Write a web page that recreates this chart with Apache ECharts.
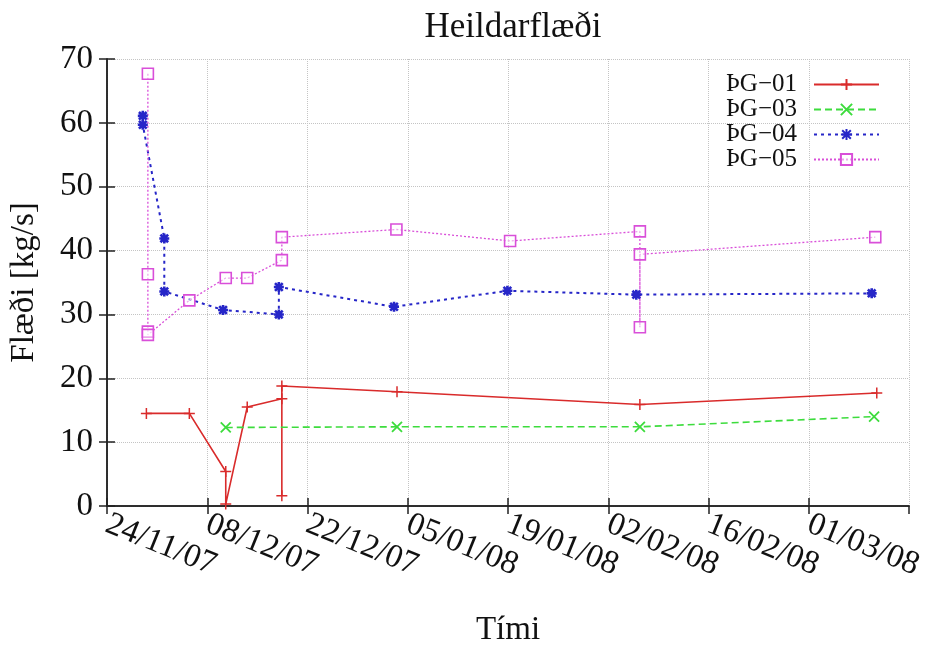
<!DOCTYPE html>
<html>
<head>
<meta charset="utf-8">
<script src="https://cdn.jsdelivr.net/npm/echarts@6/dist/echarts.min.js"></script>
<style>
  html, body { margin: 0; padding: 0; background: #fff; }
  #chart { width: 936px; height: 652px; }
</style>
</head>
<body>
<div id="chart"></div>
<script>
// measurement times (UTC) and total flow [kg/s] per well
var pg01Time = ['2007-11-29T12:00', '2007-12-05T12:00', '2007-12-10T14:00', '2007-12-10T14:00', '2007-12-13T14:00',
  '2007-12-18T10:00', '2007-12-18T10:00', '2007-12-18T10:00', '2008-01-03T12:00', '2008-02-06T10:00', '2008-03-10T12:00']
var pg01Flow = [14.5, 14.5, 5.4, 0.3, 15.5, 16.8, 1.6, 18.8, 17.9, 15.9, 17.7]

var pg03Time = ['2007-12-10T14:00', '2008-01-03T12:00', '2008-02-06T10:00', '2008-03-10T03:00']
var pg03Flow = [12.3, 12.4, 12.4, 14.0]

var pg04Time = ['2007-11-29T00:00', '2007-11-29T00:00', '2007-12-02T00:00', '2007-12-02T00:00', '2007-12-10T05:00',
  '2007-12-18T00:00', '2007-12-18T00:00', '2008-01-03T02:00', '2008-01-18T22:00', '2008-02-05T22:00', '2008-03-09T19:00']
var pg04Flow = [61.1, 59.7, 41.9, 33.6, 30.7, 30.0, 34.3, 31.2, 33.7, 33.1, 33.3]

var pg05Time = ['2007-11-29T17:00', '2007-11-29T17:00', '2007-11-29T17:00', '2007-11-29T17:00', '2007-12-05T12:00',
  '2007-12-10T14:00', '2007-12-13T14:00', '2007-12-18T10:00', '2007-12-18T10:00', '2008-01-03T10:00',
  '2008-01-19T07:00', '2008-02-06T10:00', '2008-02-06T10:00', '2008-02-06T10:00', '2008-03-10T07:00']
var pg05Flow = [67.7, 36.3, 27.3, 26.8, 32.2, 35.7, 35.7, 38.5, 42.1, 43.3, 41.5, 43.0, 28.0, 39.4, 42.1]

var startDate = '2007-11-24T00:00'
var endDate = '2008-03-15T00:00'
var tickDays = 14

const serif = "'Liberation Serif', 'DejaVu Serif', serif"
const DAY = 86400000
var base = Date.parse(startDate + 'Z')

function toDays (s) {
  return (Date.parse(s + 'Z') - base) / DAY
}
function pairs (times, vals) {
  var out = []
  for (var i = 0; i < times.length; i++) {
    out.push([toDays(times[i]), vals[i]])
  }
  return out
}
function pad (n) {
  return n < 10 ? '0' + n : '' + n
}
function fmtDay (v) {
  var d = new Date(base + v * DAY)
  return pad(d.getUTCDate()) + '/' + pad(d.getUTCMonth() + 1) + '/' + pad(d.getUTCFullYear() % 100)
}

var plus = 'path://M0,-1V1M-1,0H1'
var cross = 'path://M-1,-1L1,1M-1,1L1,-1'
var star = 'path://M-1,-1L1,1M-1,1L1,-1M0,-1.3V1.3M-1.3,0H1.3'

var gridLine = {show: true, lineStyle: {color: '#c4c4c4', type: 'dotted', width: 1}}
var boxLine = {show: true, lineStyle: {color: '#222', width: 1.5}}

function mkSeries (name, times, vals, col, lineType, width, symbol, size, fill, bw) {
  return {
    name: name,
    type: 'line',
    data: pairs(times, vals),
    symbol: symbol,
    symbolSize: size,
    showAllSymbol: true,
    lineStyle: {color: col, width: width, type: lineType},
    itemStyle: {color: fill, borderColor: col, borderWidth: bw},
    emphasis: {disabled: true}
  }
}

var chart = echarts.init(document.getElementById('chart'))
chart.setOption({
  animation: false,
  backgroundColor: '#fff',
  title: {
    text: 'Heildarflæði',
    left: 508,
    top: 5,
    textAlign: 'center',
    textStyle: {fontFamily: serif, fontSize: 35, fontWeight: 'normal', color: '#111'}
  },
  legend: {
    orient: 'vertical',
    right: 51,
    top: 67,
    align: 'right',
    itemWidth: 65,
    itemHeight: 14,
    itemGap: 0,
    textStyle: {fontFamily: serif, fontSize: 25, lineHeight: 24, color: '#111', padding: [0, 12, 0, 0]},
    data: ['ÞG−01', 'ÞG−03', 'ÞG−04', 'ÞG−05']
  },
  grid: {left: 107, right: 27, top: 59, bottom: 144},
  xAxis: [
    {
      type: 'value',
      min: 0,
      max: toDays(endDate),
      interval: tickDays,
      name: 'Tími',
      nameLocation: 'middle',
      nameGap: 108,
      nameTextStyle: {fontFamily: serif, fontSize: 33, color: '#111'},
      axisLine: boxLine,
      axisTick: {show: true, inside: true, length: 8, lineStyle: {color: '#222', width: 1.5}},
      axisLabel: {
        rotate: -22,
        margin: 17,
        showMaxLabel: false,
        fontFamily: serif,
        fontSize: 33,
        color: '#111',
        formatter: fmtDay
      },
      splitLine: gridLine
    },
    {
      type: 'value',
      position: 'top',
      min: 0,
      max: toDays(endDate),
      interval: tickDays,
      axisLine: boxLine,
      axisTick: {show: true, inside: true, length: 8, lineStyle: {color: '#222', width: 1.5}},
      axisLabel: {show: false},
      splitLine: {show: false}
    }
  ],
  yAxis: [
    {
      type: 'value',
      min: 0,
      max: 70,
      interval: 10,
      name: 'Flæði [kg/s]',
      nameLocation: 'middle',
      nameGap: 66,
      nameTextStyle: {fontFamily: serif, fontSize: 33, color: '#111'},
      axisLine: boxLine,
      axisTick: {show: true, inside: true, length: 8, lineStyle: {color: '#222', width: 1.5}},
      axisLabel: {margin: 14, fontFamily: serif, fontSize: 33, color: '#111'},
      splitLine: gridLine
    },
    {
      type: 'value',
      position: 'right',
      min: 0,
      max: 70,
      interval: 10,
      axisLine: boxLine,
      axisTick: {show: true, inside: true, length: 8, lineStyle: {color: '#222', width: 1.5}},
      axisLabel: {show: false},
      splitLine: {show: false}
    }
  ],
  series: [
    mkSeries('ÞG−01', pg01Time, pg01Flow, '#d92b2b', 'solid', 1.6, plus, 11, 'transparent', 1.5),
    mkSeries('ÞG−03', pg03Time, pg03Flow, '#3ddc3d', [7, 4], 1.6, cross, 10, 'transparent', 1.8),
    mkSeries('ÞG−04', pg04Time, pg04Flow, '#2626c8', [3, 4], 2, star, 10, 'transparent', 2.6),
    mkSeries('ÞG−05', pg05Time, pg05Flow, '#d94fd9', [2, 2], 1.3, 'rect', 11, 'rgba(255,255,255,0.5)', 1.6)
  ]
})
</script>
</body>
</html>
